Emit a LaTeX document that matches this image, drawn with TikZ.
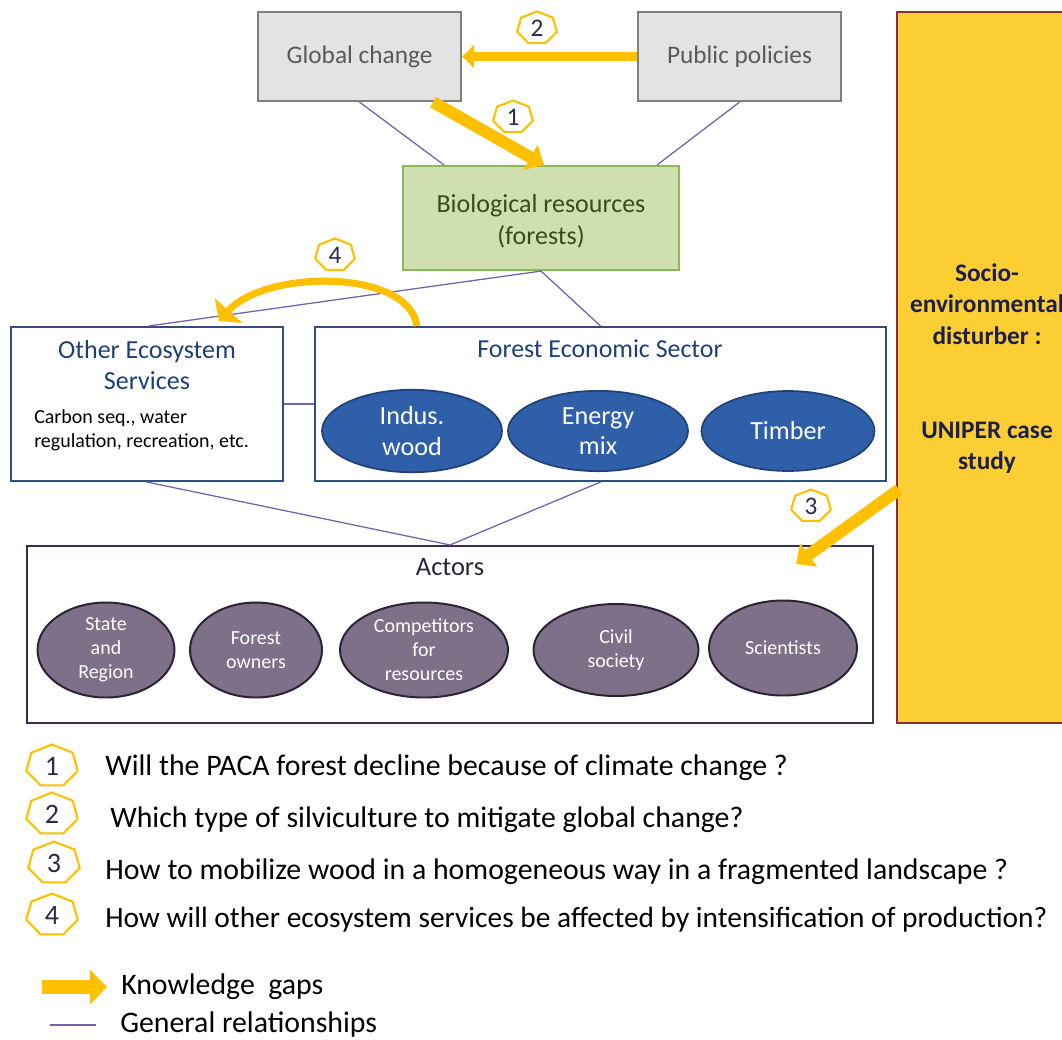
\documentclass[tikz,border=0pt]{standalone}
\usepackage{fontspec}
\setmainfont{Carlito}
\usetikzlibrary{shapes.geometric,arrows.meta,calc}
\definecolor{gapyellow}{HTML}{FFC000}
\definecolor{relpurple}{HTML}{7262AE}
\definecolor{boxgray}{HTML}{7F7F7F}
\definecolor{fillgray}{HTML}{E3E3E3}
\definecolor{textgray}{HTML}{595959}
\definecolor{biofill}{HTML}{CFDFB0}
\definecolor{bioline}{HTML}{8FB85A}
\definecolor{biotext}{HTML}{3B4A1E}
\definecolor{secline}{HTML}{2F4F7F}
\definecolor{sectext}{HTML}{1F3F77}
\definecolor{woodfill}{HTML}{2E5FA8}
\definecolor{woodline}{HTML}{1F4178}
\definecolor{actline}{HTML}{3A2F4A}
\definecolor{acttext}{HTML}{2A2438}
\definecolor{actfill}{HTML}{7E7088}
\definecolor{actdraw}{HTML}{2B2233}
\definecolor{uniperfill}{HTML}{FBCF33}
\definecolor{uniperline}{HTML}{8B2E2E}
\definecolor{unipertext}{HTML}{1F1F4F}
\definecolor{numnavy}{HTML}{2A2A4A}
\def\pxu{0.025cm}
\newcommand{\heptnum}[1]{\scalebox{0.81}[1]{#1}}
\begin{document}
\begin{tikzpicture}[x=0.025cm, y=-0.025cm,
    relline/.style={draw=relpurple, line width=0.9pt},
    gaparrow/.style={draw=gapyellow, line width=#1},
    graybox/.style={draw=boxgray, fill=fillgray, line width=1.6pt,
        minimum width=203*\pxu, minimum height=89*\pxu, text=textgray,
        font=\fontsize{18}{21.6}\selectfont},
    secbox/.style={draw=secline, fill=white, line width=1.5pt},
    woodell/.style={ellipse, draw=woodline, fill=woodfill, line width=1.2pt,
        text=white, align=center, minimum height=80*\pxu,
        font=\fontsize{18.6}{21.8}\selectfont},
    actell/.style={ellipse, draw=actdraw, fill=actfill, line width=1.4pt,
        text=white, align=center, minimum height=95*\pxu, inner sep=0pt,
        font=\fontsize{14.2}{17}\selectfont},
    hept/.style={regular polygon, regular polygon sides=7, draw=gapyellow,
        fill=white, line width=1.5pt, inner sep=0pt, minimum size=#1,
        xscale=1.23, transform shape, text=numnavy},
    question/.style={anchor=west, inner xsep=0pt, font=\fontsize{21.2}{25}\selectfont}
]
    % page
    \fill[white] (0,0) rectangle (1062,1039);
    \useasboundingbox (0,0) rectangle (1062,1039);

    % UNIPER case study (runs off the page on the right)
    \node[draw=uniperline, fill=uniperfill, line width=1.5pt,
        minimum width=180*\pxu, minimum height=711*\pxu] (uniper) at (987,367.5) {};
    \node[text=unipertext, align=center, font=\bfseries\fontsize{18}{22.3}\selectfont]
        (unipertxt) at (987,368.5)
        {Socio-\\environmental\\disturber :\\ \\ \\UNIPER case\\study};

    % top boxes
    \node[graybox] (glob) at (359.5,56.5) {Global change};
    \node[graybox] (pub) at (739.5,56.5) {Public policies};
    \node[draw=bioline, fill=biofill, line width=1.5pt, minimum width=276*\pxu,
        minimum height=104*\pxu, text=biotext, align=center,
        font=\fontsize{18.5}{22.7}\selectfont] (bio) at (541,218) {};
    \node[text=biotext, align=center, font=\fontsize{18.5}{22.7}\selectfont]
        (biotxt) at (541,221) {Biological resources\\(forests)};

    % ecosystem services and economic sector
    \node[secbox, minimum width=272*\pxu, minimum height=154*\pxu] (oes) at (147,404) {};
    \node[text=sectext, align=center, font=\fontsize{18.5}{21.5}\selectfont]
        (oestitle) at (147,365) {Other Ecosystem\\Services};
    \node[anchor=west, align=left, inner xsep=0pt, font=\fontsize{14.2}{16.8}\selectfont]
        (oestext) at (34,430) {Carbon seq., water\\regulation, recreation, etc.};
    \node[secbox, minimum width=571*\pxu, minimum height=154*\pxu] (fes) at (600.5,404) {};
    \node[text=sectext, font=\fontsize{18.4}{21.5}\selectfont] (festitle) at (600,349)
        {Forest Economic Sector};
    \node[woodell, minimum width=180*\pxu] (indus) at (412,431) {Indus.\\wood};
    \node[woodell, minimum width=180*\pxu] (energy) at (598,431) {Energy\\mix};
    \node[woodell, minimum width=173*\pxu] (timber) at (788,431) {Timber};

    % actors
    \node[draw=actline, fill=white, line width=1.5pt, minimum width=846*\pxu,
        minimum height=177*\pxu] (act) at (450,634.5) {};
    \node[text=acttext, font=\fontsize{18.8}{21.6}\selectfont] (acttitle) at (450,567) {Actors};
    \node[actell, minimum width=137*\pxu] (state) at (106,650) {State\\and\\Region};
    \node[actell, minimum width=132*\pxu] (owners) at (256,650) {Forest\\owners};
    \node[actell, minimum width=168*\pxu] (compet) at (424,650) {Competitors\\for\\resources};
    \node[actell, minimum width=165*\pxu, minimum height=92*\pxu] (civil) at (616,650) {Civil\\society};
    \node[actell, minimum width=148*\pxu] (scient) at (783,648) {Scientists};

    % general relationships
    \draw[relline] (glob.south) -- ($(bio.north west)+(42,0)$);
    \draw[relline] (pub.south) -- ($(bio.north east)+(-23,0)$);
    \draw[relline] (bio.south) -- ($(oes.north west)+(139,0)$);
    \draw[relline] (bio.south) -- (fes.north);
    \draw[relline] (oes.east) -- (fes.west);
    \draw[relline] (oes.south) -- (act.north);
    \draw[relline] (fes.south) -- (act.north);

    % knowledge gaps
    \draw[gaparrow=7pt, -{Triangle[length=8.5pt,width=16pt]}] (pub.west) -- (glob.east);
    \draw[gaparrow=8.5pt, -{Triangle[length=11pt,width=20pt]}]
        ($(glob.south east)+(-29,0)$) -- ($(bio.north west)+(142,0)$);
    \draw[gaparrow=8.5pt, -{Triangle[length=11pt,width=20pt]}]
        ($(uniper.west)+(3,122)$) -- ($(act.north east)+(-78,19)$);
    \draw[gaparrow=5pt, -{Triangle[length=10pt,width=26pt]}]
        ($(fes.north west)+(103,0)$) .. controls +(-8,-57) and +(47,-52) .. ($(oes.north east)+(-65,-5)$);

    % numbers on the arrows
    \node[hept=23.5pt, font=\fontsize{18}{20}\selectfont] (h2) at (537,28) {\heptnum{2}};
    \node[hept=23.5pt, font=\fontsize{18}{20}\selectfont] (h1) at (513,117) {\heptnum{1}};
    \node[hept=23.5pt, font=\fontsize{18}{20}\selectfont] (h4) at (335,255) {\heptnum{4}};
    \node[hept=23.5pt, font=\fontsize{18}{20}\selectfont] (h3) at (811,506) {\heptnum{3}};

    % questions
    \node[hept=30.5pt, font=\fontsize{20}{22}\selectfont] (q1num) at (52,766) {\heptnum{1}};
    \node[hept=30.5pt, font=\fontsize{20}{22}\selectfont] (q2num) at (52,814) {\heptnum{2}};
    \node[hept=30.5pt, font=\fontsize{20}{22}\selectfont] (q3num) at (54,863) {\heptnum{3}};
    \node[hept=30.5pt, font=\fontsize{20}{22}\selectfont] (q4num) at (52,915) {\heptnum{4}};
    \node[question] (q1) at (105,768) {Will the PACA forest decline because of climate change ?};
    \node[question] (q2) at (110,820) {Which type of silviculture to mitigate global change?};
    \node[question] (q3) at (105,872) {How to mobilize wood in a homogeneous way in a fragmented landscape ?};
    \node[question, font=\fontsize{20.9}{25}\selectfont] (q4) at (105,920)
        {How will other ecosystem services be affected by intensification of production?};

    % legend
    \coordinate (kgs) at (42,987);
    \coordinate (kge) at (107,987);
    \draw[gaparrow=10pt, -{Triangle[length=12pt,width=24pt]}] (kgs) -- (kge);
    \node[question] (kgtext) at (121,987) {Knowledge\ \ gaps};
    \coordinate (grs) at (50,1025);
    \coordinate (gre) at (96,1025);
    \draw[relline] (grs) -- (gre);
    \node[question] (grtext) at (120,1025) {General relationships};
\end{tikzpicture}
\end{document}
